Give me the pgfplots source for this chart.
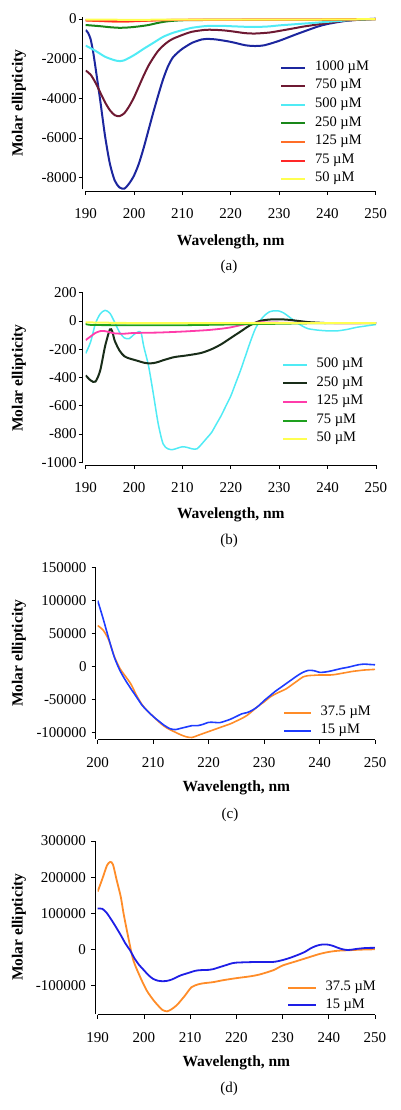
\documentclass[border=0pt]{standalone}
\usepackage{fontspec}
\setmainfont{Liberation Serif}
\usepackage{pgfplots}
\pgfplotsset{compat=1.18}
\definecolor{aBlue}{RGB}{28,38,158}
\definecolor{aMaroon}{RGB}{110,25,50}
\definecolor{cCyan}{RGB}{80,235,245}
\definecolor{aGreen}{RGB}{25,135,25}
\definecolor{aOrange}{RGB}{255,110,40}
\definecolor{aRed}{RGB}{255,40,40}
\definecolor{cYellow}{RGB}{255,255,80}
\definecolor{bDark}{RGB}{25,45,25}
\definecolor{bMagenta}{RGB}{255,60,170}
\definecolor{bGreen}{RGB}{30,160,30}
\definecolor{cOrange}{RGB}{255,140,40}
\definecolor{cBlue}{RGB}{30,60,255}
\definecolor{dBlue}{RGB}{30,30,230}
\pgfplotsset{
  leglen/.style={legend image code/.code={\fill[##1, draw=none] (0pt,-1pt) rectangle (#1,1pt);}},
  cdstyle/.style={
    scale only axis,
    axis lines=left,
    axis line style={-, line width=0.8pt},
    every tick/.style={line width=0.8pt, black},
    tick align=outside,
    major tick length=4pt,
    enlargelimits=false,
    xtick={190,200,...,250},
    /pgf/number format/.cd, fixed, precision=0, 1000 sep={}, assume math mode=true,
    /pgfplots/.cd,
    scaled y ticks=false,
    scaled x ticks=false,
    axis x line shift=1.5pt,
    axis y line shift=3pt,
    xticklabel style={yshift=-8.5pt},
    xlabel={\fontsize{15.5}{18}\selectfont\bfseries Wavelength, nm},
    ylabel={\fontsize{15.5}{18}\selectfont\bfseries Molar ellipticity},
    legend cell align=left,
    legend style={draw=none, fill=none, inner sep=0pt, anchor=north west,
      font=\fontsize{14.5}{16}\selectfont, row sep=0pt, column sep=9pt,
      nodes={inner sep=1pt, text height=11pt, text depth=5.6pt}},
    leglen=24pt,
    every axis plot/.append style={smooth, tension=0.45},
  }
}
\begin{document}
\fontsize{15}{18}\selectfont
\begin{tikzpicture}
\path[use as bounding box] (0pt,0pt) rectangle (400pt,-1110pt);
% ---------------- (a)
\begin{axis}[cdstyle,
  at={(85.7pt,-189.4pt)}, anchor=south west,
  width=290pt, height=172.3pt,
  xmin=190, xmax=250, ymin=-8600, ymax=100,
  ytick={-8000,-6000,-4000,-2000,0},
  yticklabel style={xshift=3pt},
  xlabel style={at={(axis description cs:0.5,0)}, anchor=center, yshift=-52pt},
  ylabel style={at={(axis description cs:-0.230,0.5)}, anchor=center},
  legend style={at={(axis description cs:0.673,0.7626)}},
]
\addplot[aBlue, line width=2pt] coordinates {(190,-550)(190.5,-700)(191,-1000)(191.5,-1600)(192,-2400)(193,-4100)(194,-5900)(195,-7300)(196,-8150)(197,-8500)(198,-8560)(199,-8300)(200,-7900)(201,-7300)(202,-6500)(203,-5600)(204,-4700)(205,-3850)(206,-3050)(207,-2400)(208,-1950)(209,-1700)(210,-1500)(212,-1200)(214,-1030)(215,-1000)(217,-1030)(220,-1150)(223,-1320)(225,-1360)(227,-1320)(230,-1100)(233,-820)(235,-640)(238,-380)(240,-250)(243,-120)(245,-60)(247,-20)(250,20)};
\addlegendentry{1000 µM}
\addplot[aMaroon, line width=2pt] coordinates {(190,-2600)(191,-2800)(192,-3200)(193,-3700)(194,-4200)(195,-4600)(196,-4850)(197,-4900)(198,-4750)(199,-4400)(200,-3950)(201,-3400)(202,-2850)(203,-2350)(204,-1950)(205,-1600)(206,-1350)(207,-1150)(208,-1000)(210,-800)(212,-640)(215,-540)(218,-560)(220,-610)(223,-710)(225,-730)(228,-680)(230,-600)(233,-470)(235,-380)(238,-270)(240,-200)(243,-100)(245,-60)(248,-20)(250,0)};
\addlegendentry{750 µM}
\addplot[cCyan, line width=2pt] coordinates {(190,-1340)(192,-1600)(194,-1900)(196,-2080)(197,-2120)(198,-2080)(200,-1820)(202,-1500)(204,-1200)(206,-900)(208,-700)(210,-560)(212,-440)(215,-350)(218,-340)(220,-360)(223,-390)(225,-400)(228,-370)(230,-320)(235,-230)(240,-140)(245,-50)(250,0)};
\addlegendentry{500 µM}
\addplot[aGreen, line width=2pt] coordinates {(190,-300)(193,-360)(195,-410)(197,-440)(199,-420)(201,-370)(203,-300)(205,-190)(207,-110)(210,-60)(215,-45)(220,-40)(230,-40)(240,-35)(245,-20)(250,0)};
\addlegendentry{250 µM}
\addplot[aOrange, line width=2pt] coordinates {(190,-70)(193,-100)(195,-120)(198,-130)(200,-110)(203,-80)(206,-55)(210,-40)(220,-35)(230,-30)(240,-25)(250,0)};
\addlegendentry{125 µM}
\addplot[aRed, line width=2pt] coordinates {(190,-60)(193,-85)(195,-100)(198,-105)(200,-95)(203,-70)(206,-50)(210,-35)(220,-30)(230,-25)(240,-20)(250,0)};
\addlegendentry{75 µM}
\addplot[cYellow, line width=2pt] coordinates {(190,-30)(200,-35)(210,-30)(220,-25)(230,-25)(240,-20)(250,0)};
\addlegendentry{50 µM}
\end{axis}
\node at (229pt,-267pt) {(a)};
% ---------------- (b)
\begin{axis}[cdstyle,
  at={(85.7pt,-463.4pt)}, anchor=south west,
  width=290.3pt, height=170.7pt,
  xmin=190, xmax=250, ymin=-1008, ymax=200,
  ytick={-1000,-800,...,200},
  yticklabel style={xshift=3pt},
  xlabel style={at={(axis description cs:0.5,0)}, anchor=center, yshift=-51.4pt},
  ylabel style={at={(axis description cs:-0.2298,0.5)}, anchor=center},
  legend style={at={(axis description cs:0.678,0.6335)}},
]
\addplot[cCyan, line width=1.5pt] coordinates {(190,-230)(191,-150)(192,-20)(193,50)(194,75)(195,55)(196,-10)(197,-80)(198,-120)(199,-125)(200,-95)(201,-75)(201.5,-90)(202,-180)(203,-320)(204,-520)(205,-730)(206,-870)(207,-905)(208,-910)(209,-900)(210,-890)(211,-895)(212,-905)(213,-905)(214,-870)(215,-830)(216,-790)(217,-730)(218,-670)(219,-600)(220,-530)(221,-440)(222,-350)(223,-250)(224,-150)(225,-60)(226,0)(227,40)(228,65)(229,72)(230,70)(231,55)(232,30)(233,5)(234,-20)(235,-40)(236,-55)(238,-65)(240,-70)(242,-70)(244,-60)(246,-45)(248,-35)(250,-25)};
\addlegendentry{500 µM}
\addplot[bDark, line width=2pt] coordinates {(190,-385)(191,-420)(192,-430)(193,-350)(194,-180)(195,-60)(195.5,-75)(196,-140)(197,-210)(198,-250)(199,-265)(200,-275)(201,-285)(202,-295)(203,-300)(204,-298)(205,-290)(206,-278)(207,-268)(208,-258)(209,-252)(210,-248)(212,-238)(214,-225)(216,-200)(218,-165)(220,-120)(222,-75)(224,-30)(226,0)(228,10)(230,12)(232,8)(234,0)(236,-8)(238,-12)(240,-15)(245,-15)(250,-15)};
\addlegendentry{250 µM}
\addplot[bMagenta, line width=1.8pt] coordinates {(190,-135)(191,-110)(192,-85)(193,-72)(194,-72)(195,-80)(196,-88)(198,-90)(200,-85)(205,-82)(210,-75)(215,-65)(218,-55)(220,-45)(222,-30)(224,-18)(226,-10)(230,-12)(240,-15)(250,-15)};
\addlegendentry{125 µM}
\addplot[bGreen, line width=1.8pt] coordinates {(190,-15)(191,-28)(200,-30)(210,-30)(220,-25)(230,-20)(240,-15)(250,-15)};
\addlegendentry{75 µM}
\addplot[cYellow, line width=2pt] coordinates {(190,-10)(200,-15)(210,-15)(220,-15)(230,-15)(240,-15)(250,-15)};
\addlegendentry{50 µM}
\end{axis}
\node at (229pt,-541pt) {(b)};
% ---------------- (c)
\begin{axis}[cdstyle,
  at={(97.7pt,-738.8pt)}, anchor=south west,
  width=277.3pt, height=171.1pt,
  xmin=200, xmax=250, ymin=-110000, ymax=150000,
  axis y line shift=2pt, axis x line shift=1pt,
  xtick={200,210,...,250},
  ytick={-100000,-50000,...,150000},
  xlabel style={at={(axis description cs:0.5,0)}, anchor=center, yshift=-48.7pt},
  ylabel style={at={(axis description cs:-0.2838,0.5)}, anchor=center},
  legend style={at={(axis description cs:0.6694,0.2075)}, row sep=-0.9pt},
  leglen=27pt,
]
\addplot[cOrange, line width=1.6pt] coordinates {(200,62000)(201,55000)(202,40000)(203,15000)(204,-3000)(205,-15000)(206,-27000)(207,-44000)(208,-58000)(209,-68000)(210,-76000)(211,-84000)(212,-91000)(213,-96000)(214,-100000)(215,-104000)(216,-107000)(217,-108000)(218,-105000)(219,-102000)(220,-99000)(221,-96000)(222,-93000)(223,-90000)(224,-87000)(225,-83000)(226,-79000)(227,-74000)(228,-67000)(229,-60000)(230,-54000)(231,-47000)(232,-42000)(233,-38000)(234,-34000)(235,-28000)(236,-22000)(237,-16000)(238,-14000)(239,-13500)(240,-13000)(242,-13000)(243,-12000)(244,-10500)(245,-9000)(246,-7500)(247,-6500)(248,-5500)(249,-5000)(250,-4500)};
\addlegendentry{37.5 µM}
\addplot[cBlue, line width=1.6pt] coordinates {(200,100000)(201,72000)(202,42000)(203,14000)(204,-6000)(205,-21000)(206,-34000)(207,-46500)(208,-59000)(209,-68000)(210,-76000)(211,-83000)(212,-89500)(213,-94500)(214,-96000)(215,-94000)(216,-92000)(217,-90000)(218,-90000)(219,-88000)(220,-85000)(221,-85000)(222,-85500)(223,-83000)(224,-80000)(225,-76000)(226,-72000)(227,-70000)(228,-66000)(229,-60000)(230,-52000)(231,-45000)(232,-38000)(233,-32000)(234,-26000)(235,-20000)(236,-14000)(237,-9000)(238,-6000)(239,-6500)(240,-9000)(241,-8500)(242,-7000)(243,-5000)(244,-3000)(245,-1500)(246,500)(247,2500)(248,3500)(249,3000)(250,2500)};
\addlegendentry{15 µM}
\end{axis}
\node at (230pt,-815pt) {(c)};
% ---------------- (d)
\begin{axis}[cdstyle,
  at={(97.7pt,-1013.5pt)}, anchor=south west,
  width=277.3pt, height=172.5pt,
  xmin=190, xmax=250, ymin=-178000, ymax=300000,
  axis y line shift=2.7pt, axis x line shift=1pt,
  ytick={-100000,0,100000,200000,300000},
  xlabel style={at={(axis description cs:0.5,0)}, anchor=center, yshift=-49pt},
  ylabel style={at={(axis description cs:-0.2838,0.5)}, anchor=center},
  legend style={at={(axis description cs:0.6838,0.2046)}, row sep=-0.9pt},
  leglen=28pt,
]
\addplot[cOrange, line width=1.8pt] coordinates {(190,160000)(191,195000)(192,232000)(192.7,242000)(193.3,235000)(194.1,192000)(195,145000)(195.6,99000)(196.6,34000)(197.7,-30000)(199.2,-77000)(200.6,-114000)(202,-140000)(203,-155000)(204,-168000)(205,-172000)(206,-166000)(207.1,-155000)(208,-142000)(208.9,-128000)(210.3,-105000)(211.8,-97000)(213,-94000)(215,-91000)(217,-86000)(220,-80000)(223,-75000)(225,-70000)(228,-58000)(230,-45000)(233,-33000)(235,-25000)(238,-13000)(240,-7400)(242,-4000)(244.6,-2500)(247,-1000)(250,0)};
\addlegendentry{37.5 µM}
\addplot[dBlue, line width=1.8pt] coordinates {(190,113000)(191,112000)(192,100000)(193.5,71000)(195,39000)(196,16000)(197,-2800)(198,-26000)(199,-44000)(200,-58000)(201,-72000)(202,-82000)(203,-87000)(204,-88500)(205,-87500)(206,-84000)(207,-78000)(208,-72000)(209,-68000)(210,-64000)(211,-60000)(212,-58000)(214,-57000)(215,-55000)(216,-51000)(218,-43000)(219,-39000)(220,-37000)(222,-36000)(225,-35000)(228,-35000)(230,-30000)(232,-22000)(234,-12000)(235,-6000)(236,2000)(237,8000)(238,12000)(239,13500)(240,12500)(241,9000)(242,4000)(243,0)(244,-2000)(245,-1000)(246,1000)(248,3500)(250,4000)};
\addlegendentry{15 µM}
\end{axis}
\node at (229pt,-1089.3pt) {(d)};
\end{tikzpicture}
\end{document}
